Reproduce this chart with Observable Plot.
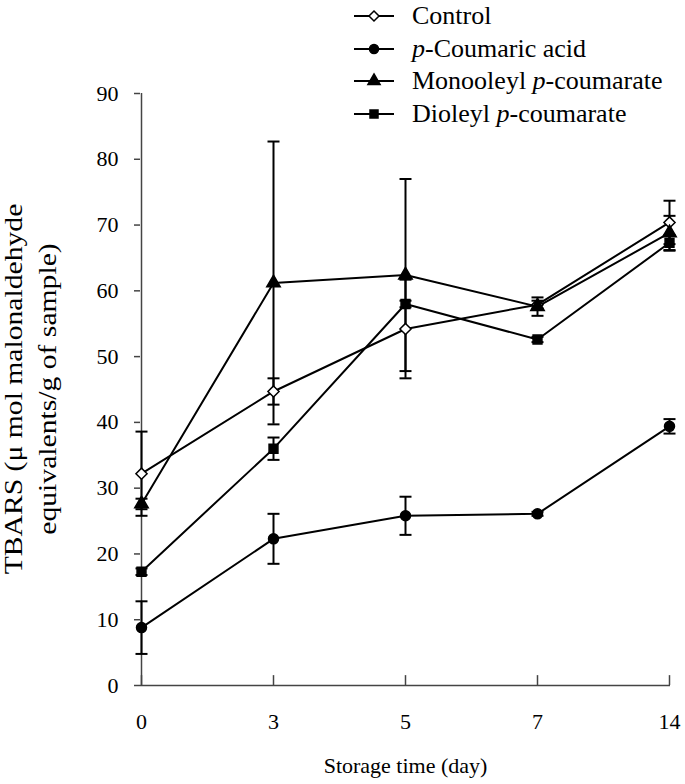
<!DOCTYPE html>
<html><head><meta charset="utf-8">
<script src="https://cdn.jsdelivr.net/npm/d3@7"></script>
<script src="https://cdn.jsdelivr.net/npm/@observablehq/plot@0.6"></script>
<style>
body{margin:0;background:#fff;}
#wrap{position:relative;width:685px;height:784px;font-family:"Liberation Serif","Times New Roman",serif;color:#000;}
#legend{position:absolute;left:352px;top:0;font-size:26px;}
.row{display:flex;align-items:center;height:32.5px;}
.row svg{margin-right:16px;}
#ylab{position:absolute;left:31px;top:389px;width:0;height:0;}
#ylab div{position:absolute;transform:translate(-50%,-50%) rotate(-90deg) scaleX(1.14);white-space:nowrap;text-align:center;font-size:26px;line-height:34px;color:#000;}
</style></head><body>
<div id="wrap"><div id="chart"></div><div id="legend"></div><div id="ylab"><div>TBARS (μ mol malonaldehyde<br>equivalents/g of sample)</div></div></div>
<script>
const days = ["0", "3", "5", "7", "14"];
const yTicks = [0, 10, 20, 30, 40, 50, 60, 70, 80, 90];
const seriesNames = ["Control", "p-Coumaric acid", "Monooleyl p-coumarate", "Dioleyl p-coumarate"];
const controlMean = [32.2, 44.7, 54.2, 57.9, 70.4];
const controlSD   = [6.4, 2.0, 7.5, 0.6, 3.3];
const coumaricMean = [8.8, 22.3, 25.8, 26.1, 39.4];
const coumaricSD   = [4.0, 3.8, 2.9, 0.3, 1.1];
const monoMean = [27.6, 61.2, 62.4, 57.6, 68.8];
const monoSD   = [0.8, 21.5, 14.6, 1.4, 2.6];
const diMean = [17.3, 36.0, 58.0, 52.6, 67.3];
const diSD   = [0.5, 1.7, 0.5, 0.4, 1.2];
const symbols = ["diamond2", "circle", "triangle", "square"];
const fills = ["white", "black", "black", "black"];

const means = [controlMean, coumaricMean, monoMean, diMean];
const sds = [controlSD, coumaricSD, monoSD, diSD];
const rows = seriesNames.flatMap((s, k) => days.map((d, i) => ({
  series: s, day: d, mean: means[k][i], lo: means[k][i] - sds[k][i], hi: means[k][i] + sds[k][i],
  symbol: symbols[k], fill: fills[k]
})));
const axisColor = "#444";
// horizontal cap glyph for error bars
const capSymbol = {draw(ctx) { ctx.moveTo(-6, 0); ctx.lineTo(6, 0); }};

const chart = Plot.plot({
  width: 685, height: 784,
  marginTop: 93, marginBottom: 99, marginLeft: 140, marginRight: 15,
  style: {fontFamily: "'Liberation Serif','Times New Roman',serif", fontSize: "22px", color: "#000", background: "#fff"},
  x: {type: "point", domain: days, padding: 0},
  y: {domain: [0, 90]},
  symbol: {domain: symbols, range: symbols},
  marks: [
    Plot.axisY({ticks: yTicks, tickSize: 6, tickPadding: 16, stroke: axisColor, strokeWidth: 1.5, label: null, fontSize: 22}),
    Plot.axisX({tickSize: 0, tickPadding: 28, label: null, fontSize: 22}),
    Plot.ruleX([days[0]], {y1: 0, y2: 90, stroke: axisColor, strokeWidth: 1.5}),
    Plot.ruleY([0], {stroke: axisColor, strokeWidth: 1.5}),
    Plot.ruleX(days, {y1: 0, y2: 1.5, stroke: axisColor, strokeWidth: 1.5}),
    Plot.text(["Storage time (day)"], {frameAnchor: "bottom", dy: 87, fontSize: 22, text: d => d}),
    Plot.ruleX(rows, {x: "day", y1: "lo", y2: "hi", stroke: "black", strokeWidth: 2}),
    Plot.dot(rows, {x: "day", y: "lo", symbol: capSymbol, fill: "none", stroke: "black", strokeWidth: 2}),
    Plot.dot(rows, {x: "day", y: "hi", symbol: capSymbol, fill: "none", stroke: "black", strokeWidth: 2}),
    Plot.line(rows, {x: "day", y: "mean", z: "series", stroke: "black", strokeWidth: 2}),
    Plot.dot(rows, {x: "day", y: "mean", symbol: "symbol", fill: "fill", stroke: "black", strokeWidth: 1.5, r: 5})
  ]
});
document.getElementById("chart").appendChild(chart);

// legend
const legend = d3.select("#legend");
const labelsHtml = ["Control", "<i>p</i>-Coumaric acid", "Monooleyl <i>p</i>-coumarate", "Dioleyl <i>p</i>-coumarate"];
seriesNames.forEach((s, k) => {
  const row = legend.append("div").attr("class", "row");
  const svg = row.append("svg").attr("width", 44).attr("height", 20);
  svg.append("line").attr("x1", 2).attr("x2", 42).attr("y1", 10).attr("y2", 10).attr("stroke", "black").attr("stroke-width", 2);
  const sym = {diamond2: d3.symbolDiamond2, circle: d3.symbolCircle, triangle: d3.symbolTriangle, square: d3.symbolSquare}[symbols[k]];
  svg.append("path").attr("d", d3.symbol(sym, 64)()).attr("transform", "translate(22,10)")
    .attr("fill", fills[k]).attr("stroke", "black").attr("stroke-width", 1.5);
  row.append("span").html(labelsHtml[k]);
});
</script>
</body></html>
